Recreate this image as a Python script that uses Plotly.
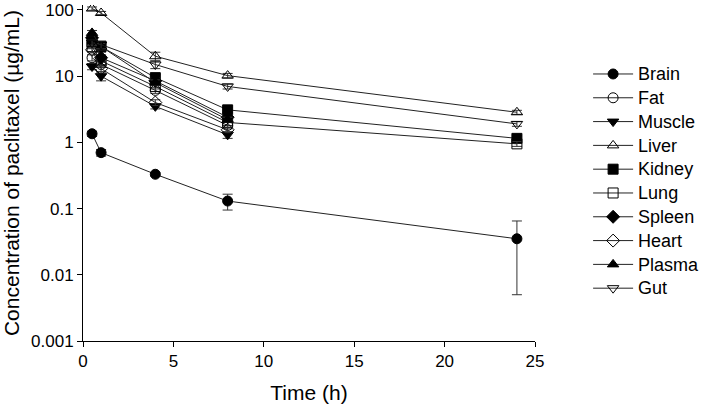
import plotly.graph_objects as go

time_full = [0.5, 1, 4, 8, 24]
time_short = [0.5, 1, 4, 8]

brain = [1.35, 0.70, 0.33, 0.13, 0.035]
brain_err = [0.12, 0.08, 0.02, 0.035, 0.03]
fat = [19, 15, 6.1, 1.8]
fat_err = [2, 1.5, 0.6, 0.2]
muscle = [14, 10, 3.5, 1.3]
muscle_err = [1.5, 1.5, 0.3, 0.15]
liver = [105, 90, 20, 10.2, 2.85]
liver_err = [6, 5, 3, 0.8, 0.2]
kidney = [33, 28, 9.5, 3.1, 1.15]
kidney_err = [3, 5, 1, 0.3, 0.12]
lung = [28, 17, 7.0, 2.0, 0.95]
lung_err = [2, 2, 0.6, 0.2, 0.08]
spleen = [38, 19, 8.5, 2.4]
spleen_err = [3, 2, 0.8, 0.2]
heart = [25, 13, 4.0, 1.55]
heart_err = [2, 1.2, 0.4, 0.15]
plasma = [45, 28, 8.0, 2.2]
plasma_err = [4, 3, 0.8, 0.2]
gut = [32, 30, 15, 7.0, 1.9]
gut_err = [3, 4, 2, 0.6, 0.15]

series = [
    ("Brain", time_full, brain, brain_err, "circle"),
    ("Fat", time_short, fat, fat_err, "circle-open"),
    ("Muscle", time_short, muscle, muscle_err, "triangle-down"),
    ("Liver", time_full, liver, liver_err, "triangle-up-open"),
    ("Kidney", time_full, kidney, kidney_err, "square"),
    ("Lung", time_full, lung, lung_err, "square-open"),
    ("Spleen", time_short, spleen, spleen_err, "diamond"),
    ("Heart", time_short, heart, heart_err, "diamond-open"),
    ("Plasma", time_short, plasma, plasma_err, "triangle-up"),
    ("Gut", time_full, gut, gut_err, "triangle-down-open"),
]

fig = go.Figure()
for name, t, v, e, sym in series:
    fig.add_trace(go.Scatter(
        x=t, y=v, name='<span style="font-size:18px">' + name + '</span>',
        mode="lines+markers",
        line=dict(color="#222222", width=1),
        marker=dict(symbol=sym, size=10, color="#000000",
                    line=dict(color="#000000", width=1)),
        error_y=dict(type="data", array=e, color="#333333", thickness=1, width=5),
    ))

fig.update_layout(
    width=709, height=409,
    margin=dict(l=83, r=173, t=5, b=68),
    paper_bgcolor="white", plot_bgcolor="white",
    font=dict(family="Liberation Sans, Arial, sans-serif", size=18, color="#000000"),
    legend=dict(x=1.115, y=0.845, xanchor="left", yanchor="top",
                font=dict(size=16), tracegroupgap=0, itemwidth=40,
                bgcolor="rgba(0,0,0,0)"),
    showlegend=True,
)
fig.update_xaxes(
    range=[0, 25], tickvals=[0, 5, 10, 15, 20, 25],
    showline=True, linecolor="#000000", linewidth=1,
    ticks="outside", ticklen=5, tickcolor="#000000",
    showgrid=False, zeroline=False, automargin=False,
    ticklabeloverflow="allow",
    tickfont=dict(size=17),
    title=dict(text="Time (h)", font=dict(size=21), standoff=14),
)
fig.update_yaxes(
    type="log", range=[-3, 2.075],
    tickvals=[0.001, 0.01, 0.1, 1, 10, 100],
    ticktext=["0.001", "0.01", "0.1", "1", "10", "100"],
    showline=True, linecolor="#000000", linewidth=1,
    ticks="outside", ticklen=5, tickcolor="#000000",
    showgrid=False, zeroline=False, automargin=False,
    ticklabeloverflow="allow",
    tickfont=dict(size=17),
    title=dict(text="Concentration of paclitaxel (µg/mL)", font=dict(size=21), standoff=5),
)

fig.write_html("out.html", config={"displayModeBar": False},
               post_script="document.body.style.margin='0';")
